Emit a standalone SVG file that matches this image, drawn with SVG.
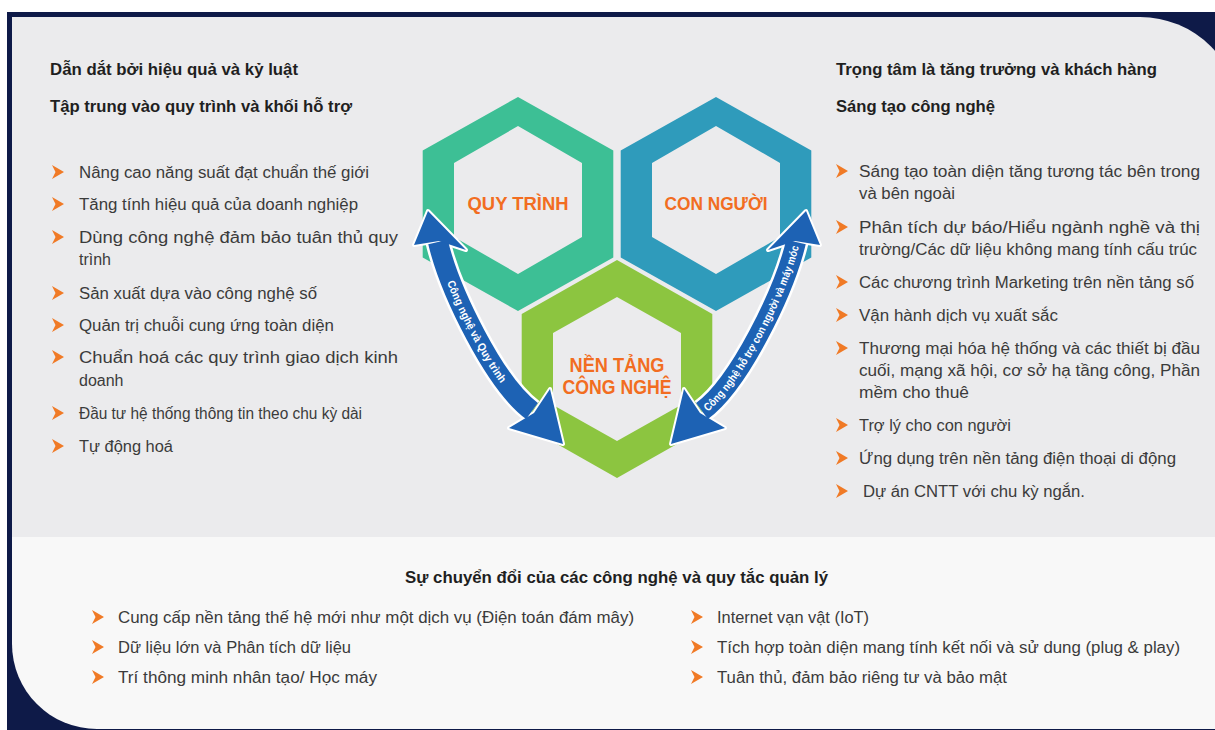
<svg xmlns="http://www.w3.org/2000/svg" xmlns:xlink="http://www.w3.org/1999/xlink" width="1215" height="730" viewBox="0 0 1215 730">
<style>
text{font-family:"Liberation Sans",Arial,sans-serif}
.h{font-size:16.5px;font-weight:bold;fill:#1f1f1f}
.t{font-size:16px;fill:#3b3b3b}
.hl{font-size:19px;font-weight:bold;fill:#f26d21;text-anchor:middle}
.al{font-size:11px;font-weight:bold;fill:#ffffff;text-anchor:middle;dominant-baseline:central}
.bul{fill:#f07a26}
.sh-w{fill:none;stroke:#ffffff;stroke-width:25}
.sh-b{fill:none;stroke:#1d62b4;stroke-width:20}
.hd-w{fill:#ffffff;stroke:#ffffff;stroke-width:4;stroke-linejoin:round}
.hd-b{fill:#1d62b4}
</style>
<defs>
<path id="b" d="M0,-7 L12,0 L0,7 L3.5,0 Z"/>
<path id="lp" d="M438,242 C450,292 495,384 532,411"/>
<path id="rp" d="M702,411 C739,384 784,292 796,242"/>
</defs>

<g id="background">
<rect x="0" y="0" width="1215" height="730" fill="#ffffff"/>
<rect x="7" y="12" width="1208" height="718" fill="#0e1a48"/>
<path d="M12,17 H1140 A100,100 0 0 1 1240,117 V537 H12 Z" fill="#ebebed"/>
<path d="M12,537 H1215 V729 H97 A85,85 0 0 1 12,644 Z" fill="#f8f8f8"/>
</g>

<g id="left-column">
<text class="h" x="50" y="75" textLength="248" lengthAdjust="spacingAndGlyphs">Dẫn dắt bởi hiệu quả và kỷ luật</text>
<text class="h" x="50" y="112" textLength="302" lengthAdjust="spacingAndGlyphs">Tập trung vào quy trình và khối hỗ trợ</text>
<use href="#b" class="bul" x="52" y="172"/>
<text class="t" x="79" y="178" textLength="290" lengthAdjust="spacingAndGlyphs">Nâng cao năng suất đạt chuẩn thế giới</text>
<use href="#b" class="bul" x="52" y="204"/>
<text class="t" x="79" y="210" textLength="279" lengthAdjust="spacingAndGlyphs">Tăng tính hiệu quả của doanh nghiệp</text>
<use href="#b" class="bul" x="52" y="237"/>
<text class="t" x="79" y="243" textLength="319" lengthAdjust="spacingAndGlyphs">Dùng công nghệ đảm bảo tuân thủ quy</text>
<text class="t" x="79" y="265">trình</text>
<use href="#b" class="bul" x="52" y="293"/>
<text class="t" x="79" y="299" textLength="238" lengthAdjust="spacingAndGlyphs">Sản xuất dựa vào công nghệ số</text>
<use href="#b" class="bul" x="52" y="325"/>
<text class="t" x="79" y="331" textLength="255" lengthAdjust="spacingAndGlyphs">Quản trị chuỗi cung ứng toàn diện</text>
<use href="#b" class="bul" x="52" y="357"/>
<text class="t" x="79" y="363" textLength="319" lengthAdjust="spacingAndGlyphs">Chuẩn hoá các quy trình giao dịch kinh</text>
<text class="t" x="79" y="386">doanh</text>
<use href="#b" class="bul" x="52" y="413"/>
<text class="t" x="79" y="419" textLength="283" lengthAdjust="spacingAndGlyphs">Đầu tư hệ thống thông tin theo chu kỳ dài</text>
<use href="#b" class="bul" x="52" y="446"/>
<text class="t" x="79" y="452" textLength="94" lengthAdjust="spacingAndGlyphs">Tự động hoá</text>
</g>

<g id="right-column">
<text class="h" x="836" y="75" textLength="321" lengthAdjust="spacingAndGlyphs">Trọng tâm là tăng trưởng và khách hàng</text>
<text class="h" x="836" y="112" textLength="159" lengthAdjust="spacingAndGlyphs">Sáng tạo công nghệ</text>
<use href="#b" class="bul" x="836" y="171"/>
<text class="t" x="859" y="177" textLength="341" lengthAdjust="spacingAndGlyphs">Sáng tạo toàn diện tăng tương tác bên trong</text>
<text class="t" x="859" y="199" textLength="96" lengthAdjust="spacingAndGlyphs">và bên ngoài</text>
<use href="#b" class="bul" x="836" y="227"/>
<text class="t" x="859" y="233" textLength="341" lengthAdjust="spacingAndGlyphs">Phân tích dự báo/Hiểu ngành nghề và thị</text>
<text class="t" x="859" y="255" textLength="338" lengthAdjust="spacingAndGlyphs">trường/Các dữ liệu không mang tính cấu trúc</text>
<use href="#b" class="bul" x="836" y="282"/>
<text class="t" x="859" y="288" textLength="335" lengthAdjust="spacingAndGlyphs">Các chương trình Marketing trên nền tảng số</text>
<use href="#b" class="bul" x="836" y="315"/>
<text class="t" x="859" y="321" textLength="199" lengthAdjust="spacingAndGlyphs">Vận hành dịch vụ xuất sắc</text>
<use href="#b" class="bul" x="836" y="348"/>
<text class="t" x="859" y="354" textLength="341" lengthAdjust="spacingAndGlyphs">Thương mại hóa hệ thống và các thiết bị đầu</text>
<text class="t" x="859" y="376" textLength="341" lengthAdjust="spacingAndGlyphs">cuối, mạng xã hội, cơ sở hạ tầng công, Phần</text>
<text class="t" x="859" y="398" textLength="110" lengthAdjust="spacingAndGlyphs">mềm cho thuê</text>
<use href="#b" class="bul" x="836" y="425"/>
<text class="t" x="859" y="431" textLength="152" lengthAdjust="spacingAndGlyphs">Trợ lý cho con người</text>
<use href="#b" class="bul" x="836" y="458"/>
<text class="t" x="859" y="464" textLength="317" lengthAdjust="spacingAndGlyphs">Ứng dụng trên nền tảng điện thoại di động</text>
<use href="#b" class="bul" x="836" y="491"/>
<text class="t" x="863" y="497" textLength="222" lengthAdjust="spacingAndGlyphs">Dự án CNTT với chu kỳ ngắn.</text>
</g>

<g id="hex-quy-trinh">
<path fill="#3dbf95" fill-rule="evenodd" d="M518,97 L613.3,150.5 L613.3,257.5 L518,311 L422.7,257.5 L422.7,150.5 Z M518,126 L582,163 L582,237 L518,274 L454,237 L454,163 Z"/>
<text class="hl" x="518" y="210" textLength="101" lengthAdjust="spacingAndGlyphs">QUY TRÌNH</text>
</g>

<g id="hex-con-nguoi">
<path fill="#2f9bbb" fill-rule="evenodd" d="M716,97 L811.3,150.5 L811.3,257.5 L716,311 L620.7,257.5 L620.7,150.5 Z M716,126 L780,163 L780,237 L716,274 L652,237 L652,163 Z"/>
<text class="hl" x="716" y="210" textLength="103" lengthAdjust="spacingAndGlyphs">CON NGƯỜI</text>
</g>

<g id="hex-nen-tang-cong-nghe">
<path fill="#8cc540" fill-rule="evenodd" d="M617,260 L712.3,314 L712.3,424 L617,478 L521.7,424 L521.7,314 Z M617,297 L681,333 L681,405 L617,441 L553,405 L553,333 Z"/>
<text class="hl" x="617" y="372" style="font-size:20px" textLength="95" lengthAdjust="spacingAndGlyphs">NỀN TẢNG</text>
<text class="hl" x="617" y="394" style="font-size:20px" textLength="109" lengthAdjust="spacingAndGlyphs">CÔNG NGHỆ</text>
</g>

<g id="connectors">
<g id="arrow-left">
<use href="#lp" class="sh-w"/>
<path class="hd-w" d="M428,211 L466,250 L439,241 L414,245 Z"/>
<path class="hd-w" d="M563,444 L509,428 L534,413 L550,389 Z"/>
<use href="#lp" class="sh-b"/>
<path class="hd-b" d="M428,211 L466,250 L439,241 L414,245 Z"/>
<path class="hd-b" d="M563,444 L509,428 L534,413 L550,389 Z"/>
<text class="al"><textPath href="#lp" startOffset="50%" textLength="114" lengthAdjust="spacingAndGlyphs">Công nghệ và Quy trình</textPath></text>
</g>
<g id="arrow-right">
<use href="#rp" class="sh-w"/>
<path class="hd-w" d="M806,211 L768,250 L795,241 L820,245 Z"/>
<path class="hd-w" d="M671,444 L725,428 L700,413 L684,389 Z"/>
<use href="#rp" class="sh-b"/>
<path class="hd-b" d="M806,211 L768,250 L795,241 L820,245 Z"/>
<path class="hd-b" d="M671,444 L725,428 L700,413 L684,389 Z"/>
<text class="al"><textPath href="#rp" startOffset="50%" textLength="188" lengthAdjust="spacingAndGlyphs">Công nghệ hỗ trợ con người và máy móc</textPath></text>
</g>
</g>

<g id="bottom-section">
<text class="h" x="405" y="583" textLength="423" lengthAdjust="spacingAndGlyphs">Sự chuyển đổi của các công nghệ và quy tắc quản lý</text>
<use href="#b" class="bul" x="92" y="617"/>
<text class="t" x="118" y="623" textLength="516" lengthAdjust="spacingAndGlyphs">Cung cấp nền tảng thế hệ mới như một dịch vụ (Điện toán đám mây)</text>
<use href="#b" class="bul" x="92" y="647"/>
<text class="t" x="118" y="653" textLength="233" lengthAdjust="spacingAndGlyphs">Dữ liệu lớn và Phân tích dữ liệu</text>
<use href="#b" class="bul" x="92" y="677"/>
<text class="t" x="118" y="683" textLength="259" lengthAdjust="spacingAndGlyphs">Trí thông minh nhân tạo/ Học máy</text>
<use href="#b" class="bul" x="691" y="617"/>
<text class="t" x="717" y="623" textLength="152" lengthAdjust="spacingAndGlyphs">Internet vạn vật (IoT)</text>
<use href="#b" class="bul" x="691" y="647"/>
<text class="t" x="717" y="653" textLength="463" lengthAdjust="spacingAndGlyphs">Tích hợp toàn diện mang tính kết nối và sử dung (plug &amp; play)</text>
<use href="#b" class="bul" x="691" y="677"/>
<text class="t" x="717" y="683" textLength="290" lengthAdjust="spacingAndGlyphs">Tuân thủ, đảm bảo riêng tư và bảo mật</text>
</g>
</svg>
